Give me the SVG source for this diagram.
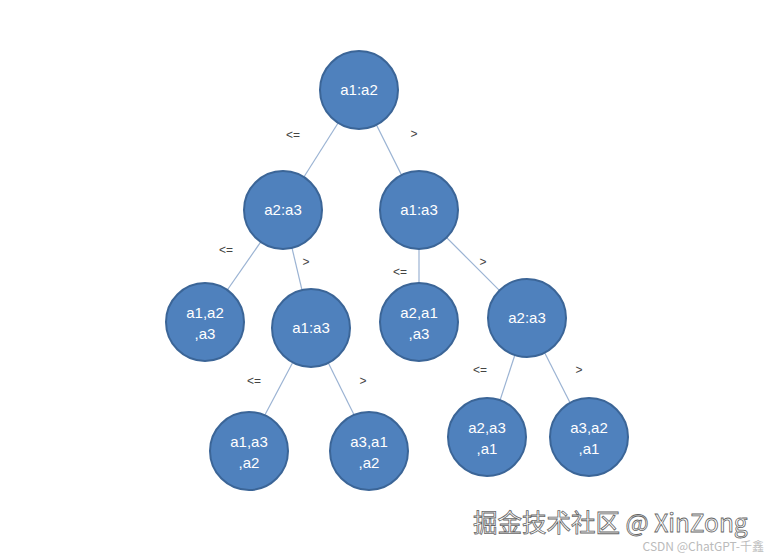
<svg xmlns="http://www.w3.org/2000/svg" width="775" height="559" viewBox="0 0 775 559">
<style>
.n circle{fill:#4f81bd;stroke:#3b6597;stroke-width:2}
.n text{fill:#fff;font-family:"Liberation Sans",Arial,sans-serif;font-size:15px;text-anchor:middle}
.e line{stroke:#9bb3d3;stroke-width:1.2}
.l{font-family:"Liberation Sans",Arial,sans-serif;font-size:12px;fill:#444;text-anchor:middle}
</style>
<rect width="775" height="559" fill="#fff"/>
<g id="connectors" class="e">
<line x1="359" y1="90" x2="283" y2="210"/>
<line x1="359" y1="90" x2="419" y2="210"/>
<line x1="283" y1="210" x2="205" y2="322"/>
<line x1="283" y1="210" x2="311" y2="328"/>
<line x1="419" y1="210" x2="419" y2="322"/>
<line x1="419" y1="210" x2="527" y2="318"/>
<line x1="311" y1="328" x2="249" y2="445"/>
<line x1="311" y1="328" x2="369" y2="445"/>
<line x1="527" y1="318" x2="487" y2="440"/>
<line x1="527" y1="318" x2="589" y2="440"/>
</g>
<g id="labels">
<text class="l" x="293" y="139">&lt;=</text>
<text class="l" x="414" y="138">&gt;</text>
<text class="l" x="226" y="254">&lt;=</text>
<text class="l" x="306" y="266">&gt;</text>
<text class="l" x="400" y="276">&lt;=</text>
<text class="l" x="483" y="266">&gt;</text>
<text class="l" x="254" y="385">&lt;=</text>
<text class="l" x="363" y="385">&gt;</text>
<text class="l" x="480" y="374">&lt;=</text>
<text class="l" x="579" y="374">&gt;</text>
</g>
<g id="n1" class="n"><circle cx="359" cy="90" r="39"/><text x="359" y="95">a1:a2</text></g>
<g id="n2" class="n"><circle cx="283" cy="210" r="39"/><text x="283" y="215">a2:a3</text></g>
<g id="n3" class="n"><circle cx="419" cy="210" r="39"/><text x="419" y="215">a1:a3</text></g>
<g id="n4" class="n"><circle cx="205" cy="322" r="39"/><text x="205" y="318">a1,a2</text><text x="205" y="339">,a3</text></g>
<g id="n5" class="n"><circle cx="311" cy="328" r="39"/><text x="311" y="333">a1:a3</text></g>
<g id="n6" class="n"><circle cx="419" cy="322" r="39"/><text x="419" y="318">a2,a1</text><text x="419" y="339">,a3</text></g>
<g id="n7" class="n"><circle cx="527" cy="318" r="39"/><text x="527" y="323">a2:a3</text></g>
<g id="n8" class="n"><circle cx="249" cy="451" r="39"/><text x="249" y="447">a1,a3</text><text x="249" y="468">,a2</text></g>
<g id="n9" class="n"><circle cx="369" cy="451" r="39"/><text x="369" y="447">a3,a1</text><text x="369" y="468">,a2</text></g>
<g id="n10" class="n"><circle cx="487" cy="437" r="39"/><text x="487" y="433">a2,a3</text><text x="487" y="454">,a1</text></g>
<g id="n11" class="n"><circle cx="589" cy="437" r="39"/><text x="589" y="433">a3,a2</text><text x="589" y="454">,a1</text></g>
<g id="watermark">
<text x="473" y="532" font-family="'Noto Sans CJK SC','Liberation Sans',sans-serif" font-size="24.5" fill="#fff" stroke="#666" stroke-width="0.8">掘金技术社区 @ XinZong</text>
<text x="764" y="551" text-anchor="end" font-family="'Noto Sans CJK SC','Liberation Sans',sans-serif" font-size="12" fill="#bbb">CSDN @ChatGPT-千鑫</text>
</g>
</svg>
